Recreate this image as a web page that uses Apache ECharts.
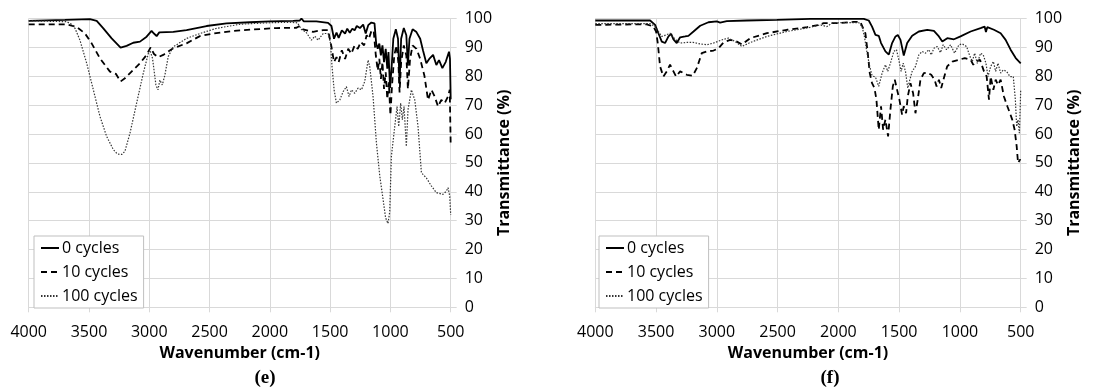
<!DOCTYPE html>
<html>
<head>
<meta charset="utf-8">
<script src="https://cdn.jsdelivr.net/npm/echarts@6/dist/echarts.min.js"></script>
<style>
  html, body { margin: 0; padding: 0; background: #fff; }
  #chart { width: 1115px; height: 390px; }
</style>
</head>
<body>
<div id="chart"></div>
<script>
// wavenumber ticks (cm-1) and transmittance ticks (%)
const xTicks = [4000, 3500, 3000, 2500, 2000, 1500, 1000, 500];
const yTicks = [0, 10, 20, 30, 40, 50, 60, 70, 80, 90, 100];
const seriesNames = ["0 cycles", "10 cycles", "100 cycles"];
const panelLabels = ["(e)", "(f)"];

// panel (e) - [wavenumber, transmittance]
const e0 = [[4000,99.2],[3700,99.5],[3492,99.8],[3436,99.2],[3381,96.6],[3312,93.1],[3238,89.9],[3188,90.5],[3133,91.6],[3077,92],[3022,93.7],[2981,95.7],[2961,94.8],[2939,93.9],[2917,95.2],[2801,95.4],[2691,96],[2525,97.4],[2359,98.3],[2166,98.7],[2000,99],[1807,99.2],[1752,99.3],[1738,100],[1718,99],[1614,99],[1517,98.5],[1489,97.4],[1468,93],[1447,95.1],[1429,93.3],[1403,95.9],[1376,94.8],[1358,96.5],[1337,95.1],[1316,96.5],[1297,95.9],[1279,97.4],[1253,96.7],[1226,97.9],[1205,94.8],[1184,97.7],[1158,98.6],[1132,98.3],[1118,91.3],[1105,89.5],[1092,91.3],[1079,87.2],[1066,90.7],[1053,84.9],[1039,89.5],[1026,82.6],[1016,88.4],[1003,76],[989,83.7],[976,93],[955,96.3],[937,93],[924,77.3],[911,93],[889,96.7],[868,94.2],[855,83.7],[842,93],[816,96.3],[784,95.3],[753,93],[730,89],[702,84.5],[674,86.2],[646,87.4],[619,83.9],[597,85.6],[569,82.8],[541,85],[514,88.5],[506,86],[500,72]];
const e10 = [[4000,98],[3685,98],[3602,97.1],[3533,94.8],[3478,91.4],[3409,86.2],[3326,81.6],[3276,80.8],[3238,78.2],[3202,79.3],[3147,81.6],[3077,84.5],[3022,87.4],[2989,90],[2961,87.7],[2926,86.6],[2884,87.4],[2801,89.7],[2691,91.4],[2580,93.9],[2470,94.8],[2304,95.7],[2138,96.2],[1945,96.7],[1779,96.8],[1752,97.4],[1724,96.2],[1641,95.4],[1558,96],[1517,96],[1489,90.2],[1468,84.9],[1447,86.6],[1429,84.9],[1403,89],[1376,86],[1350,89.5],[1324,87.8],[1297,90.7],[1271,89.5],[1245,91.9],[1218,90.7],[1197,94.2],[1179,93],[1158,95.6],[1139,95.9],[1121,87.2],[1105,82],[1092,86],[1079,79.1],[1066,84.9],[1053,75.6],[1039,81.4],[1026,72.1],[1013,77.9],[1000,66.5],[987,76.7],[968,87.2],[950,90.7],[934,84.9],[924,74.4],[911,84.9],[889,90.7],[868,87.2],[855,75.6],[837,86],[816,90.7],[784,89.5],[753,86],[718,80.2],[688,71.8],[660,75.3],[633,73],[605,69.5],[578,71.8],[550,70.7],[522,73],[508,75.3],[500,56]];
const e100 = [[4000,99.2],[3685,98.9],[3644,98],[3616,96.6],[3575,92.5],[3519,84.5],[3464,75.3],[3409,66.1],[3354,59.2],[3298,54.6],[3265,53.1],[3229,52.9],[3202,54],[3160,60.3],[3105,70.7],[3050,81],[3008,87.9],[2995,89.1],[2973,86.2],[2945,77],[2928,75.3],[2912,78.7],[2892,77],[2870,80.5],[2843,86.8],[2801,90.2],[2691,93.1],[2580,94.8],[2442,96.6],[2249,98],[2028,98.5],[1835,98.7],[1771,98.5],[1738,96.2],[1702,95.4],[1655,92.5],[1627,93.9],[1600,92.5],[1558,94.8],[1517,94.8],[1497,91.4],[1484,83.3],[1467,75.3],[1448,70.7],[1420,71.8],[1392,74.7],[1365,76.4],[1343,73],[1323,75.3],[1296,74.1],[1268,75.9],[1240,75.3],[1213,78.2],[1185,85.6],[1171,83.2],[1144,73],[1116,56.9],[1088,45.4],[1061,37.4],[1040,31],[1020,29],[1006,33],[992,52.3],[964,62.6],[945,69.5],[931,62.6],[915,70.7],[901,65],[887,69.5],[868,55.7],[854,68.4],[826,75.3],[798,71.8],[771,62.6],[743,46.6],[702,44.8],[660,42],[619,39.7],[564,39.1],[536,40.2],[522,41.4],[508,38.5],[500,32]];

// panel (f)
const f0 = [[4000,99.3],[3549,99.3],[3508,97.8],[3481,94.9],[3453,92],[3426,91.5],[3398,93.8],[3376,94.7],[3357,92.8],[3330,91.5],[3302,93.5],[3261,93.8],[3234,94],[3192,95.5],[3137,97.5],[3069,98.7],[3000,99],[2973,98.6],[2918,99.1],[2753,99.3],[2506,99.5],[2231,99.9],[1791,99.9],[1750,99.3],[1723,97.2],[1695,94.3],[1668,94],[1649,91.5],[1613,88.6],[1585,87.5],[1558,91.5],[1530,93.8],[1511,94.3],[1489,92.6],[1462,87.2],[1434,91.5],[1393,94],[1338,95.5],[1269,96.1],[1214,95.7],[1173,93.8],[1145,92],[1104,93.2],[1049,92.8],[995,93.8],[912,95.5],[830,96.7],[797,97.2],[786,95.3],[775,97],[720,96.1],[665,94.9],[624,92.6],[583,89.2],[541,86.3],[500,84.5]];
const f10 = [[4000,97.8],[3577,98],[3522,97.2],[3500,95.5],[3486,91.5],[3467,83.4],[3440,79.9],[3412,81.7],[3385,84],[3357,81.7],[3335,79.9],[3302,81.7],[3247,80.5],[3198,80.2],[3165,82.8],[3124,88],[3082,88.6],[3027,88.9],[2986,89.7],[2945,91.7],[2890,92.6],[2835,92],[2794,91],[2725,93.2],[2588,94.9],[2423,96.1],[2258,97],[2149,97.9],[2121,98.4],[2011,98.4],[1874,98.8],[1819,98.8],[1778,94.9],[1758,88],[1742,81.1],[1723,77.6],[1703,75.9],[1687,71.9],[1668,61.5],[1649,69.6],[1632,61.5],[1613,65],[1591,59.2],[1572,68.4],[1552,76.5],[1536,78.8],[1517,75.3],[1498,71.9],[1476,66.7],[1462,69.6],[1443,67.2],[1429,73],[1407,77.6],[1385,74.1],[1366,67.2],[1347,71.9],[1325,78.8],[1297,81.1],[1269,81.3],[1236,80.5],[1209,78.8],[1192,76.5],[1173,78.8],[1154,75.9],[1132,79.4],[1105,83.4],[1063,85.1],[1008,85.7],[960,86.3],[912,85.7],[890,84],[871,85.1],[835,85.7],[802,81.7],[780,79.9],[761,71.9],[747,79.9],[725,75.3],[706,78.8],[687,77],[665,78.8],[638,73],[610,69.6],[588,67.2],[569,64.9],[550,61.5],[533,55.7],[522,50],[506,51.1],[500,51]];
const f100 = [[4000,98.2],[3549,98.2],[3508,97.2],[3481,95.5],[3453,93.8],[3418,94.3],[3385,94.9],[3343,92.8],[3302,91.5],[3247,91.7],[3192,91.7],[3137,91.2],[3082,90.9],[3027,91.5],[2945,92.8],[2904,93.2],[2849,92],[2794,90.3],[2725,91.7],[2588,93.8],[2423,95.5],[2258,96.7],[2149,97.8],[2094,97.2],[2052,98.4],[1956,98.6],[1833,98.6],[1805,97.2],[1786,93.8],[1764,88],[1742,83.4],[1723,80.2],[1695,79.7],[1668,76.5],[1640,81.1],[1613,84],[1594,81.7],[1572,84.5],[1544,88.6],[1522,89.2],[1503,85.7],[1484,81.7],[1467,84.5],[1448,81.7],[1429,75.9],[1412,78.8],[1393,81.7],[1366,83.4],[1338,87.4],[1311,88.6],[1283,88],[1256,89.2],[1236,87.4],[1214,89.7],[1187,90.3],[1160,88.2],[1138,90.9],[1110,89.2],[1077,90.9],[1044,88],[1008,90.9],[981,91.2],[945,90.3],[918,86.9],[898,85.1],[879,88],[857,84.5],[830,88],[808,87.4],[786,84.5],[769,79.9],[747,83.4],[725,85.1],[706,81.7],[687,84.5],[665,81.1],[643,82.2],[616,81.7],[588,79.9],[561,79.9],[544,71.9],[533,62.6],[522,64.9],[511,60.3],[503,70.7],[500,75.3]];

const panelData = [[e0, e10, e100], [f0, f10, f100]];

const FONT = "Open Sans";
const gridColor = "#d9d9d9";
const lineStyles = [
    { color: "#000", width: 1.8, type: "solid" },
    { color: "#000", width: 1.8, type: [6, 4] },
    { color: "#333", width: 1.2, type: [1.5, 1.5] },
];

const chart = echarts.init(document.getElementById("chart"), null, { renderer: "canvas" });

const grids = [
    { left: 28.7, right: 664.3, top: 18.5, bottom: 82.7 },
    { left: 595.3, right: 94.3, top: 18.5, bottom: 82.7 },
];

const xAxes = grids.map((g, i) => ({
    gridIndex: i,
    type: "value",
    inverse: true,
    min: xTicks[xTicks.length - 1],
    max: xTicks[0],
    interval: 500,
    axisLine: { lineStyle: { color: gridColor } },
    axisTick: { show: true, length: 5, lineStyle: { color: gridColor } },
    axisLabel: { margin: 17, fontSize: 16, color: "#000", fontFamily: FONT, formatter: (v) => String(v) },
    splitLine: { show: true, lineStyle: { color: gridColor } },
    name: "Wavenumber (cm-1)",
    nameLocation: "middle",
    nameGap: 37,
    nameTextStyle: { fontSize: 16, fontWeight: "bold", color: "#000", fontFamily: FONT },
}));

const yAxes = grids.map((g, i) => ({
    gridIndex: i,
    type: "value",
    position: "right",
    min: yTicks[0],
    max: yTicks[yTicks.length - 1],
    interval: 10,
    axisLine: { show: true, lineStyle: { color: gridColor } },
    axisTick: { show: true, length: 6, lineStyle: { color: gridColor } },
    axisLabel: { margin: 14, fontSize: 16, color: "#000", fontFamily: FONT },
    splitLine: { show: true, lineStyle: { color: gridColor } },
    name: "Transmittance (%)",
    nameLocation: "middle",
    nameRotate: 90,
    nameGap: 38,
    nameTextStyle: { fontSize: 16, fontWeight: "bold", color: "#000", fontFamily: FONT },
}));

const series = [];
panelData.forEach((curves, p) => {
    curves.forEach((data, k) => {
        series.push({
            name: seriesNames[k],
            type: "line",
            xAxisIndex: p,
            yAxisIndex: p,
            data: data,
            symbol: "none",
            showSymbol: false,
            lineStyle: lineStyles[k],
            itemStyle: { color: lineStyles[k].color },
            silent: true,
        });
    });
});

const legends = [34, 599].map((left) => ({
    data: seriesNames,
    orient: "vertical",
    left: left,
    top: 236,
    padding: [4, 6, 4, 6],
    itemWidth: 18,
    itemHeight: 14,
    itemGap: 8,
    backgroundColor: "#fff",
    borderColor: "#bfbfbf",
    borderWidth: 1,
    borderRadius: 0,
    selectedMode: false,
    itemStyle: { opacity: 0 },   // hide the marker, keep the line sample
    textStyle: { fontSize: 16, color: "#000", fontFamily: FONT, padding: [0, 0, 0, -2] },
}));

const option = {
    animation: false,
    backgroundColor: "#fff",
    grid: grids,
    xAxis: xAxes,
    yAxis: yAxes,
    legend: legends,
    series: series,
    graphic: [
        { type: "text", x: 265, y: 378, style: { text: panelLabels[0], font: 'bold 19px "Liberation Serif"', fill: "#000", align: "center", verticalAlign: "middle" } },
        { type: "text", x: 830, y: 378, style: { text: panelLabels[1], font: 'bold 19px "Liberation Serif"', fill: "#000", align: "center", verticalAlign: "middle" } },
    ],
};

chart.setOption(option);
</script>
</body>
</html>
